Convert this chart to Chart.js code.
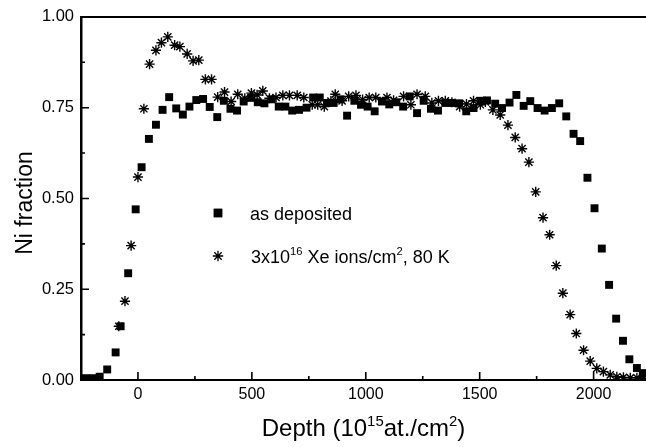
<!DOCTYPE html>
<html>
<head>
<meta charset="utf-8">
<script src="https://cdn.jsdelivr.net/npm/chart.js@4.4.0/dist/chart.umd.min.js"></script>
<style>
    html, body { margin: 0; padding: 0; background: #fff; }
    #wrap { width: 646px; height: 447px; }
</style>
</head>
<body>
<div id="wrap"><canvas id="ni-chart" width="646" height="447"></canvas></div>
<script>
// as deposited (squares)
const depositedDepth = [-230, -198, -168, -135, -98, -76, -43, -10, 16, 48, 79, 108, 137, 168, 197, 226, 256, 286, 315,
    348, 377, 406, 435, 464, 497, 526, 555, 587, 618, 647, 677, 707, 740, 769, 798, 830, 859, 889, 918, 950, 979,
    1008, 1039, 1071, 1103, 1134, 1164, 1193, 1225, 1254, 1286, 1317, 1349, 1378, 1410, 1441, 1473, 1503, 1532,
    1568, 1598, 1631, 1661, 1693, 1722, 1754, 1785, 1817, 1849, 1880, 1912, 1941, 1973, 2004, 2036, 2068, 2099,
    2129, 2157, 2190, 2216];
const depositedFraction = [0.005, 0.005, 0.009, 0.029, 0.076, 0.148, 0.294, 0.470, 0.586, 0.664, 0.703, 0.744, 0.779,
    0.748, 0.731, 0.753, 0.771, 0.774, 0.752, 0.724, 0.769, 0.747, 0.742, 0.767, 0.777, 0.765, 0.762, 0.773, 0.753,
    0.753, 0.742, 0.744, 0.750, 0.778, 0.778, 0.763, 0.763, 0.773, 0.728, 0.769, 0.758, 0.753, 0.740, 0.767, 0.759,
    0.765, 0.753, 0.781, 0.735, 0.769, 0.747, 0.742, 0.763, 0.763, 0.762, 0.740, 0.749, 0.769, 0.770, 0.761, 0.749,
    0.764, 0.785, 0.755, 0.768, 0.749, 0.742, 0.749, 0.762, 0.726, 0.678, 0.658, 0.557, 0.473, 0.362, 0.262, 0.169,
    0.108, 0.057, 0.033, 0.019];

// 3x10^16 Xe ions/cm^2, 80 K (stars)
const irradiatedDepth = [-84, -57, -30, 0, 26, 51, 79, 103, 131, 161, 184, 216, 242, 267, 296, 323, 350, 380, 409, 438,
    469, 498, 523, 548, 577, 606, 636, 665, 699, 728, 765, 789, 818, 847, 866, 896, 925, 957, 986, 1015, 1044, 1093,
    1122, 1166, 1198, 1225, 1261, 1290, 1319, 1349, 1378, 1412, 1442, 1473, 1503, 1525, 1558, 1590, 1624, 1656,
    1686, 1716, 1746, 1778, 1807, 1836, 1865, 1897, 1924, 1956, 1985, 2014, 2043, 2073, 2102, 2131, 2161, 2190, 2218];
const irradiatedFraction = [0.148, 0.217, 0.370, 0.559, 0.747, 0.870, 0.908, 0.929, 0.945, 0.922, 0.918, 0.898, 0.879,
    0.881, 0.828, 0.828, 0.779, 0.793, 0.767, 0.787, 0.776, 0.790, 0.785, 0.796, 0.776, 0.778, 0.784, 0.784, 0.784,
    0.778, 0.758, 0.758, 0.753, 0.768, 0.787, 0.769, 0.781, 0.784, 0.772, 0.778, 0.778, 0.778, 0.770, 0.781, 0.758,
    0.787, 0.781, 0.763, 0.769, 0.769, 0.765, 0.753, 0.760, 0.769, 0.758, 0.766, 0.744, 0.730, 0.702, 0.668, 0.637,
    0.600, 0.518, 0.447, 0.400, 0.315, 0.239, 0.180, 0.128, 0.082, 0.052, 0.032, 0.023, 0.014, 0.009, 0.007, 0.006,
    0.006, 0.005];

const depthTicks = [0, 500, 1000, 1500, 2000];
const depthMinorTicks = [250, 750, 1250, 1750];
const fractionTicks = [0, 0.25, 0.5, 0.75, 1.0];
const fractionMinorTicks = [0.125, 0.375, 0.625, 0.875];

const FONT = "'Liberation Sans', Arial, Helvetica, sans-serif";

function toPoints(xs, ys) {
    return xs.map((x, i) => ({ x: x, y: ys[i] }));
}

// draws a run of text pieces, some of them raised as superscripts
function richText(ctx, parts, x, y, size, align) {
    const widths = parts.map((p) => {
        ctx.font = (p.sup ? size * 0.62 : size) + "px " + FONT;
        return ctx.measureText(p.t).width;
    });
    let total = widths.reduce((a, b) => a + b, 0);
    let cx = align === "center" ? x - total / 2 : x;
    ctx.textAlign = "left";
    ctx.textBaseline = "alphabetic";
    parts.forEach((p, i) => {
        ctx.font = (p.sup ? size * 0.62 : size) + "px " + FONT;
        ctx.fillText(p.t, cx, p.sup ? y - size * 0.42 : y);
        cx += widths[i];
    });
}

const framePlugin = {
    id: "framePlugin",
    afterDraw(chart) {
        const ctx = chart.ctx;
        const area = chart.chartArea;
        const xs = chart.scales.x;
        const ys = chart.scales.y;

        ctx.save();
        ctx.strokeStyle = "#000";
        ctx.fillStyle = "#000";

        // top frame line
        ctx.lineWidth = 2;
        ctx.beginPath();
        ctx.moveTo(area.left - 1, area.top);
        ctx.lineTo(area.right, area.top);
        ctx.stroke();

        // inward ticks
        ctx.lineWidth = 1.6;
        ctx.beginPath();
        depthTicks.forEach((v) => { let p = xs.getPixelForValue(v); ctx.moveTo(p, area.bottom); ctx.lineTo(p, area.bottom - 8); });
        depthMinorTicks.forEach((v) => { let p = xs.getPixelForValue(v); ctx.moveTo(p, area.bottom); ctx.lineTo(p, area.bottom - 4); });
        fractionTicks.forEach((v) => { let p = ys.getPixelForValue(v); ctx.moveTo(area.left, p); ctx.lineTo(area.left + 8, p); });
        fractionMinorTicks.forEach((v) => { let p = ys.getPixelForValue(v); ctx.moveTo(area.left, p); ctx.lineTo(area.left + 4, p); });
        ctx.stroke();

        // axis titles
        richText(ctx, [
            { t: "Depth (10" }, { t: "15", sup: true }, { t: "at./cm" }, { t: "2", sup: true }, { t: ")" }
        ], (area.left + area.right) / 2, 436, 24, "center");

        ctx.save();
        ctx.translate(32, 203);
        ctx.rotate(-Math.PI / 2);
        ctx.font = "23px " + FONT;
        ctx.textAlign = "center";
        ctx.textBaseline = "alphabetic";
        ctx.fillText("Ni fraction", 0, 0);
        ctx.restore();

        // legend
        Chart.helpers.drawPoint(ctx, { pointStyle: "rect", radius: 6, borderWidth: 0 }, 218, 213);
        ctx.fill();
        ctx.lineWidth = 1.3;
        Chart.helpers.drawPoint(ctx, { pointStyle: "star", radius: 5.2, borderWidth: 1.3 }, 218, 256);
        ctx.fillStyle = "#000";
        richText(ctx, [{ t: "as deposited" }], 250, 220, 18, "left");
        richText(ctx, [
            { t: "3x10" }, { t: "16", sup: true }, { t: " Xe ions/cm" }, { t: "2", sup: true }, { t: ", 80 K" }
        ], 251, 263, 18, "left");

        ctx.restore();
    }
};

window.addEventListener("load", () => {
    const chart_ctx = document.getElementById("ni-chart");

    new Chart(chart_ctx, {
        type: "scatter",
        data: {
            datasets: [{
                label: "as deposited",
                data: toPoints(depositedDepth, depositedFraction),
                pointStyle: "rect",
                pointRadius: 5.6,
                backgroundColor: "#000",
                borderColor: "#000",
                borderWidth: 0
            }, {
                label: "3x10^16 Xe ions/cm^2, 80 K",
                data: toPoints(irradiatedDepth, irradiatedFraction),
                pointStyle: "star",
                pointRadius: 5.1,
                backgroundColor: "#000",
                borderColor: "#000",
                borderWidth: 1.4
            }]
        },
        options: {
            responsive: false,
            animation: false,
            events: [],
            devicePixelRatio: 1,
            layout: { autoPadding: false, padding: { top: 15, right: 0, left: 0, bottom: 0 } },
            plugins: { legend: { display: false }, tooltip: { enabled: false } },
            scales: {
                x: {
                    type: "linear",
                    min: -250,
                    max: 2230,
                    afterBuildTicks: (s) => { s.ticks = depthTicks.map((v) => ({ value: v })); },
                    afterFit: (s) => { s.height = 67; },
                    grid: { display: false, drawTicks: false },
                    border: { display: true, color: "#000", width: 2 },
                    ticks: {
                        color: "#000",
                        padding: 5,
                        maxRotation: 0,
                        font: { family: FONT, size: 16 },
                        callback: (v) => String(v)
                    }
                },
                y: {
                    type: "linear",
                    min: 0,
                    max: 1,
                    afterBuildTicks: (s) => { s.ticks = fractionTicks.map((v) => ({ value: v })); },
                    afterFit: (s) => { s.width = 81; },
                    grid: { display: false, drawTicks: false },
                    border: { display: true, color: "#000", width: 2.5 },
                    ticks: {
                        color: "#000",
                        padding: 7,
                        font: { family: FONT, size: 16.5 },
                        callback: (v) => v.toFixed(2)
                    }
                }
            }
        },
        plugins: [framePlugin]
    });
});
</script>
</body>
</html>
